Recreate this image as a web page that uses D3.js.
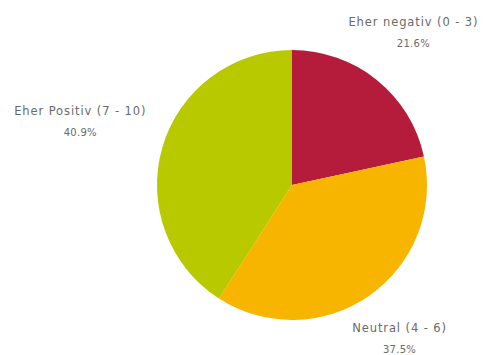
<!DOCTYPE html>
<html>
<head>
<meta charset="utf-8">
<script src="https://cdn.jsdelivr.net/npm/d3@7"></script>
<style>
  body { margin: 0; background: #fff; }
  svg { display: block; }
</style>
</head>
<body>
<div id="chart"></div>
<script>
// slice data (clockwise from 12 o'clock)
var categories = ["Eher negativ (0 - 3)", "Neutral (4 - 6)", "Eher Positiv (7 - 10)"];
var shares = [21.6, 37.5, 40.9];
var colors = ["#b51b3a", "#f8b500", "#b8c900"];

var width = 493, height = 355;
var cx = 292, cy = 185, radius = 135;

var svg = d3.select("#chart").append("svg")
    .attr("width", width)
    .attr("height", height);

var data = categories.map(function(c, i) { return {name: c, value: shares[i], color: colors[i]}; });

var pie = d3.pie()
    .sort(null)
    .value(function(d) { return d.value; });

var arc = d3.arc()
    .innerRadius(0)
    .outerRadius(radius);

var g = svg.append("g")
    .attr("transform", "translate(" + cx + "," + cy + ")");

var arcs = pie(data);

g.selectAll(".slice")
    .data(arcs)
    .enter().append("path")
    .attr("class", "slice")
    .attr("d", arc)
    .style("fill", function(d) { return d.data.color; });

// labels outside, distance grows with horizontal offset
function labelPos(d) {
    var a = (d.startAngle + d.endAngle) / 2;
    var r = 142 + 82 * Math.abs(Math.sin(a));
    return [r * Math.sin(a), -r * Math.cos(a)];
}

var labels = g.selectAll(".label")
    .data(arcs)
    .enter().append("text")
    .attr("class", "label")
    .attr("transform", function(d) { return "translate(" + labelPos(d) + ")"; })
    .style("font-family", "'DejaVu Sans', sans-serif")
    .style("font-size", "11.5px")
    .style("letter-spacing", "0.9px")
    .style("fill", "#6a6a6a")
    .style("text-anchor", "middle");

labels.append("tspan")
    .attr("x", 0)
    .attr("y", -8)
    .text(function(d) { return d.data.name; });

labels.append("tspan")
    .attr("x", 0)
    .attr("y", 13)
    .style("font-size", "10px")
    .style("letter-spacing", "0.3px")
    .text(function(d) { return d.data.value.toFixed(1) + "%"; });
</script>
</body>
</html>
